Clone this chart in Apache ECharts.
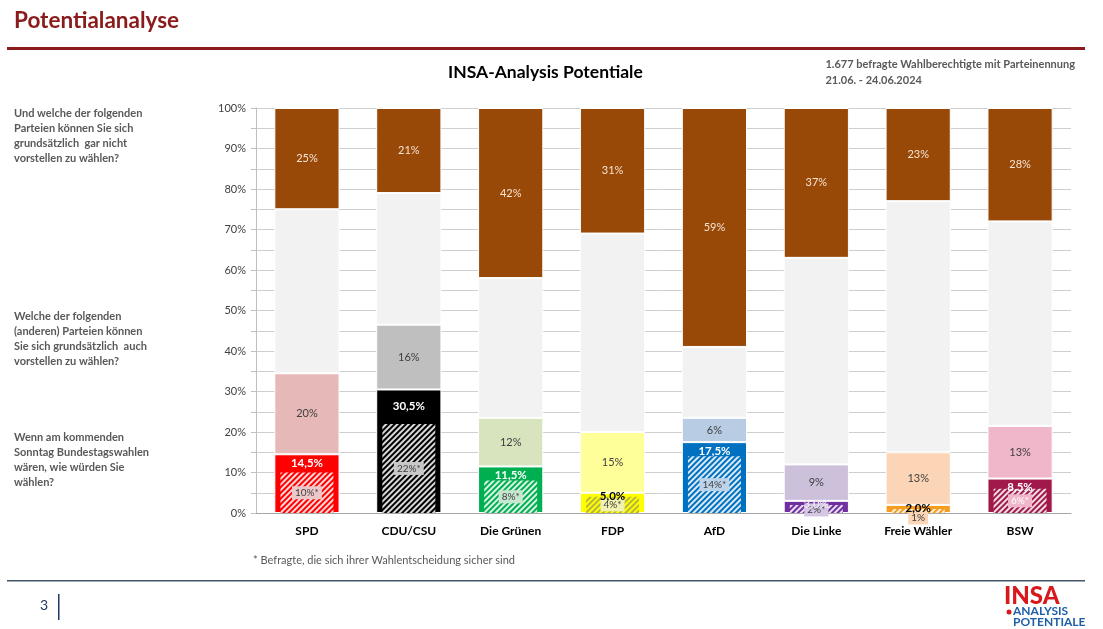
<!DOCTYPE html>
<html>
<head>
<meta charset="utf-8">
<script src="https://cdn.jsdelivr.net/npm/echarts@6/dist/echarts.min.js"></script>
<style>
html,body{margin:0;padding:0;background:#fff;}
#c{width:1103px;height:629px;}
</style>
</head>
<body>
<div id="c"></div>
<script>
// ---- data ----
const parties = ['SPD', 'CDU/CSU', 'Die Grünen', 'FDP', 'AfD', 'Die Linke', 'Freie Wähler', 'BSW'];
const vote = [14.5, 30.5, 11.5, 5.0, 17.5, 3.0, 2.0, 8.5];        // Sonntagsfrage
const sure = [10, 22, 8, 4, 14, 2, 1, 6];                           // sichere Wähler
const sureLabels = ['10%*', '22%*', '8%*', '4%*', '14%*', '2%*', '1%', '6%*'];
const potential = [20, 16, 12, 15, 6, 9, 13, 13];                   // auch vorstellbar
const never = [25, 21, 42, 31, 59, 37, 23, 28];                     // gar nicht vorstellbar
const yTicks = [0, 10, 20, 30, 40, 50, 60, 70, 80, 90, 100];

// ---- styles ----
const voteColors = ['#ff0000', '#000000', '#00b050', '#ffff00', '#0070c0', '#7030a0', '#f59d1e', '#a0194a'];
const potColors = ['#e6b8b7', '#bfbfbf', '#d7e4bd', '#ffff99', '#b8cce4', '#ccc0da', '#fbd5b5', '#f0b6ca'];
const voteLabelColors = ['#fff', '#fff', '#fff', '#000', '#fff', '#ece4f4', '#000', '#fff'];
const sureBoxColors = ['#ecc8c8', '#c8c8c8', '#c6e6cf', '#f2f2b0', '#bcd3ea', '#d4c6e4', '#fbd5b5', '#f0b6ca'];
const sureTextColors = ['#404040', '#404040', '#404040', '#404040', '#404040', '#404040', '#404040', '#ffffff'];
const hatchColors = ['rgba(255,255,255,0.85)', 'rgba(255,255,255,0.85)', 'rgba(255,255,255,0.85)', 'rgba(150,150,90,0.7)',
                     'rgba(255,255,255,0.85)', 'rgba(255,255,255,0.85)', 'rgba(255,255,255,0.85)', 'rgba(255,255,255,0.85)'];
const FONT = 'Lato';
const fmt = v => v.toFixed(1).replace('.', ',') + '%';

const rest = parties.map((_, i) => +(100 - vote[i] - potential[i] - never[i]).toFixed(2));

const voteOffsets = [[0,0],[0,8],[0,0],[0,-5],[0,0],[0,-6],[0,-6],[0,0]];
const sureOffsets = [[0,0],[0,0],[0,0],[0,0],[0,0],[0,1],[0,7],[0,0]];

const chart = echarts.init(document.getElementById('c'), null, {renderer: 'canvas'});

const seg = {borderColor: '#ffffff', borderWidth: 1};

const option = {
  animation: false,
  textStyle: {fontFamily: FONT},
  grid: {left: 256, right: 32, top: 108, bottom: 116},
  xAxis: [
    {type: 'category', data: parties, axisTick: {show: false},
     axisLine: {lineStyle: {color: '#a6a6a6', width: 1}},
     axisLabel: {color: '#000', fontWeight: 'bold', fontSize: 12, fontFamily: FONT, margin: 12}},
    {type: 'category', data: parties, show: false},
    {type: 'category', data: parties, show: false}
  ],
  yAxis: {
    type: 'value', min: 0, max: 100, interval: 5,
    axisLine: {show: true, lineStyle: {color: '#bfbfbf'}},
    axisTick: {show: true, length: 5, lineStyle: {color: '#bfbfbf'}},
    splitLine: {lineStyle: {color: '#cfcfcf', width: 1}},
    axisLabel: {color: '#404040', fontSize: 11, fontFamily: FONT, margin: 10,
      formatter: v => (yTicks.indexOf(v) >= 0 ? v + '%' : '')}
  },
  series: [
    {name: 'Wahl', type: 'bar', stack: 't', barWidth: '64%',
     data: vote.map((v, i) => ({value: v, itemStyle: {color: voteColors[i], ...seg}}))},
    {name: 'Potential', type: 'bar', stack: 't',
     data: potential.map((v, i) => ({value: v, itemStyle: {color: potColors[i], ...seg}})),
     label: {show: true, position: 'inside', formatter: p => p.value + '%', color: '#404040', fontSize: 11, fontFamily: FONT}},
    {name: 'Rest', type: 'bar', stack: 't',
     data: rest.map(v => ({value: v, itemStyle: {color: '#f2f2f2', ...seg}}))},
    {name: 'Nicht', type: 'bar', stack: 't',
     data: never.map(v => ({value: v, itemStyle: {color: '#984807', ...seg}})),
     label: {show: true, position: 'inside', formatter: p => p.value + '%', color: '#f6e4d4', fontSize: 11, fontFamily: FONT}},
    {name: 'Sicher', type: 'bar', xAxisIndex: 1, barWidth: '52%', z: 5,
     data: sure.map((v, i) => ({value: v,
       itemStyle: {color: voteColors[i],
         decal: {symbol: 'rect', symbolSize: 1, dashArrayX: [1, 0], dashArrayY: [1.5, 2], rotation: -Math.PI / 4, color: hatchColors[i]}},
       label: {show: true, position: 'inside', offset: sureOffsets[i], formatter: sureLabels[i],
         color: sureTextColors[i], fontSize: 10, fontFamily: FONT,
         backgroundColor: sureBoxColors[i], padding: [2, 3, 1, 3]}}))},
    {name: 'Wahl-Label', type: 'bar', xAxisIndex: 2, barWidth: '64%', z: 8, silent: true,
     data: vote.map((v, i) => ({value: v,
       itemStyle: {color: 'rgba(0,0,0,0)'},
       label: {show: true, position: 'insideTop', distance: 3, offset: voteOffsets[i],
         formatter: fmt(v), color: voteLabelColors[i], fontWeight: 'bold', fontSize: 11.5, fontFamily: FONT}}))}
  ],
  graphic: [
    {type: 'text', left: 14, top: 9, style: {text: 'Potentialanalyse', font: 'bold 22.5px ' + FONT, fill: '#8b1a1a'}},
    {type: 'rect', shape: {x: 7, y: 47, width: 1078, height: 3}, style: {fill: '#8b1a1a'}},
    {type: 'text', left: 448, top: 63, style: {text: 'INSA-Analysis Potentiale', font: 'bold 17.5px ' + FONT, fill: '#000'}},
    {type: 'text', right: 28, top: 56, style: {text: '1.677 befragte Wahlberechtigte mit Parteinennung\n21.06. - 24.06.2024', font: 'bold 11px ' + FONT, fill: '#595959', align: 'right', lineHeight: 16}},
    {type: 'text', left: 14, top: 106, style: {text: 'Und welche der folgenden\nParteien können Sie sich\ngrundsätzlich  gar nicht\nvorstellen zu wählen?', font: 'bold 11px ' + FONT, fill: '#595959', lineHeight: 15}},
    {type: 'text', left: 14, top: 309, style: {text: 'Welche der folgenden\n(anderen) Parteien können\nSie sich grundsätzlich  auch\nvorstellen zu wählen?', font: 'bold 11px ' + FONT, fill: '#595959', lineHeight: 15}},
    {type: 'text', left: 14, top: 430, style: {text: 'Wenn am kommenden\nSonntag Bundestagswahlen\nwären, wie würden Sie\nwählen?', font: 'bold 11px ' + FONT, fill: '#595959', lineHeight: 15}},
    {type: 'text', left: 253, top: 555, style: {text: '* Befragte, die sich ihrer Wahlentscheidung sicher sind', font: '11px ' + FONT, fill: '#595959'}},
    {type: 'rect', shape: {x: 7, y: 580, width: 1078, height: 1.5}, style: {fill: '#44546a'}},
    {type: 'text', left: 40, top: 598, style: {text: '3', font: '14px ' + FONT, fill: '#1f3864'}},
    {type: 'rect', shape: {x: 58, y: 594, width: 1.5, height: 26}, style: {fill: '#1f3864'}},
    {type: 'text', left: 1004, top: 584, style: {text: 'INSA', font: '900 24px ' + FONT, fill: '#d7191c'}},
    {type: 'circle', shape: {cx: 1009, cy: 612, r: 2.5}, style: {fill: '#d7191c'}},
    {type: 'text', left: 1013, top: 605, style: {text: 'ANALYSIS', font: 'bold 12px ' + FONT, fill: '#1f5fa8'}},
    {type: 'text', left: 1013, top: 616, style: {text: 'POTENTIALE', font: 'bold 12px ' + FONT, fill: '#1f5fa8'}}
  ]
};
chart.setOption(option);
</script>
</body>
</html>
